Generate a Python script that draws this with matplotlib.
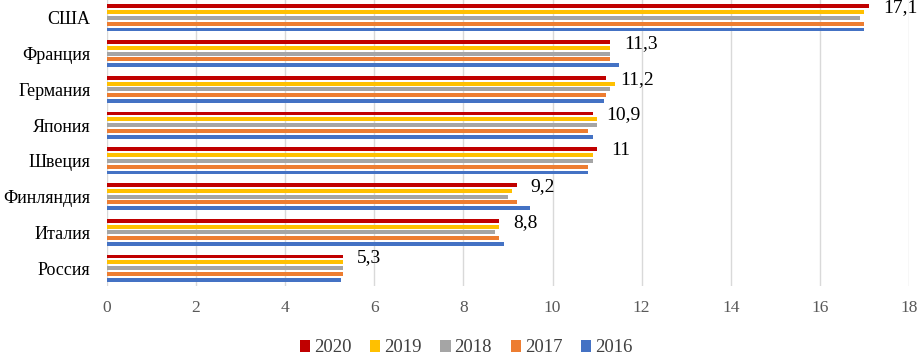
import matplotlib
matplotlib.use("Agg")
import matplotlib.pyplot as plt
import numpy as np
from matplotlib.patches import Patch

plt.rcParams['font.family'] = ['Liberation Serif', 'DejaVu Serif']

countries = ["США", "Франция", "Германия", "Япония", "Швеция", "Финляндия", "Италия", "Россия"]
years = ["2020", "2019", "2018", "2017", "2016"]
v2020 = [17.1, 11.3, 11.2, 10.9, 11.0, 9.2, 8.8, 5.3]
v2019 = [17.0, 11.3, 11.4, 11.0, 10.9, 9.1, 8.8, 5.3]
v2018 = [16.9, 11.3, 11.3, 11.0, 10.9, 9.0, 8.7, 5.3]
v2017 = [17.0, 11.3, 11.2, 10.8, 10.8, 9.2, 8.8, 5.3]
v2016 = [17.0, 11.5, 11.15, 10.9, 10.8, 9.5, 8.9, 5.25]
labels2020 = ["17,1", "11,3", "11,2", "10,9", "11", "9,2", "8,8", "5,3"]
colors = ["#C00000", "#FFC000", "#A5A5A5", "#ED7D31", "#4472C4"]

series = [v2020, v2019, v2018, v2017, v2016]

fig = plt.figure(figsize=(9.19, 3.55), dpi=100)
ax = fig.add_axes([107/919, 1 - 286/355, (909-107)/919, 286/355])

y = np.arange(len(countries))
slot = 0.163
h = 0.11
for j, (vals, c) in enumerate(zip(series, colors)):
    ax.barh(y + (j - 2) * slot, vals, height=h, color=c, zorder=3)

for i, (v, lab) in enumerate(zip(v2020, labels2020)):
    ax.annotate(lab, xy=(v, y[i] - 2 * slot), xytext=(10, -1), textcoords='offset points',
                va='center', ha='left', fontsize=14, color='black', annotation_clip=False)

ax.set_xlim(0, 18)
ax.set_ylim(len(countries) - 0.5, -0.5)
ax.set_xticks(np.arange(0, 19, 2))
ax.set_xticklabels([str(t) for t in range(0, 19, 2)])
ax.set_yticks(y)
ax.set_yticklabels(countries)
ax.tick_params(axis='x', length=0, pad=10, labelsize=12.5, labelcolor='#595959')
ax.tick_params(axis='y', length=0, pad=12, labelsize=13, labelcolor='black')
ax.grid(axis='x', color='#D9D9D9', linewidth=1, zorder=0)
ax.set_axisbelow(True)
for s in ax.spines.values():
    s.set_visible(False)

handles = [Patch(facecolor=c, edgecolor='none', label=yr) for yr, c in zip(years, colors)]
fig.legend(handles=handles, loc='center', bbox_to_anchor=(466/919, 1 - 348/355), ncol=5,
           frameon=False, fontsize=13.5, handlelength=0.55, handleheight=0.55,
           handletextpad=0.2, columnspacing=1.0, labelcolor='#404040')

fig.savefig("out.png", dpi=100)
